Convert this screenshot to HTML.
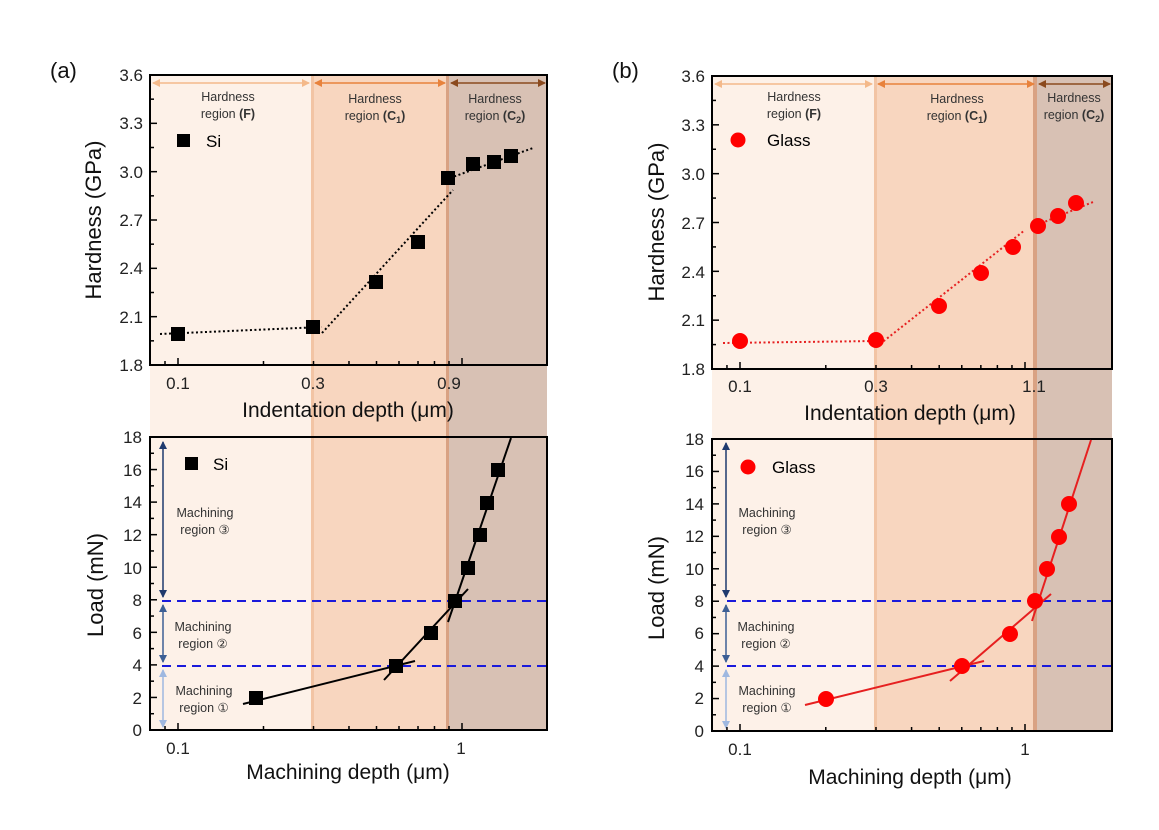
<!DOCTYPE html>
<html><head><meta charset="utf-8"><style>
body{margin:0;background:#fff;}
svg{display:block;font-family:"Liberation Sans",sans-serif;}
</style></head><body>
<svg id="s" width="1159" height="830" viewBox="0 0 1159 830">
<defs>
<marker id="aF" markerWidth="8" markerHeight="8" refX="7" refY="4" orient="auto-start-reverse" markerUnits="userSpaceOnUse"><path d="M0,0 L8,4 L0,8 Z" fill="#f4b98a"/></marker>
<marker id="aC1" markerWidth="8" markerHeight="8" refX="7" refY="4" orient="auto-start-reverse" markerUnits="userSpaceOnUse"><path d="M0,0 L8,4 L0,8 Z" fill="#e8823c"/></marker>
<marker id="aC2" markerWidth="8" markerHeight="8" refX="7" refY="4" orient="auto-start-reverse" markerUnits="userSpaceOnUse"><path d="M0,0 L8,4 L0,8 Z" fill="#8b4a1e"/></marker>
<marker id="m1" markerWidth="8" markerHeight="8" refX="7" refY="4" orient="auto-start-reverse" markerUnits="userSpaceOnUse"><path d="M0,0 L8,4 L0,8 Z" fill="#9fb8e0"/></marker>
<marker id="m2" markerWidth="8" markerHeight="8" refX="7" refY="4" orient="auto-start-reverse" markerUnits="userSpaceOnUse"><path d="M0,0 L8,4 L0,8 Z" fill="#3d5f95"/></marker>
<marker id="m3" markerWidth="8" markerHeight="8" refX="7" refY="4" orient="auto-start-reverse" markerUnits="userSpaceOnUse"><path d="M0,0 L8,4 L0,8 Z" fill="#1f3a6e"/></marker>
</defs>

<!-- ===== Panel A ===== -->
<rect x="150" y="75" width="162" height="655" fill="#fdf1e8"/>
<rect x="312" y="75" width="136" height="655" fill="#f8d6bf"/>
<rect x="448" y="75" width="99" height="655" fill="#d8c1b4"/>
<rect x="311" y="75" width="3" height="655" fill="#f2c4a4"/>
<rect x="446" y="75" width="3" height="655" fill="#d9a283"/>
<rect x="150" y="75" width="397" height="290" fill="none" stroke="#000" stroke-width="2"/>
<rect x="150" y="437" width="397" height="293" fill="none" stroke="#000" stroke-width="2"/>

<line x1="153" y1="83" x2="309" y2="83" stroke="#f4b98a" stroke-width="1.5" marker-start="url(#aF)" marker-end="url(#aF)"/>
<line x1="315" y1="83" x2="445" y2="83" stroke="#e8823c" stroke-width="1.5" marker-start="url(#aC1)" marker-end="url(#aC1)"/>
<line x1="451" y1="83" x2="545" y2="83" stroke="#8b4a1e" stroke-width="1.5" marker-start="url(#aC2)" marker-end="url(#aC2)"/>
<g font-size="12.5" fill="#333" text-anchor="middle">
<text x="228" y="101">Hardness</text><text x="228" y="118">region <tspan font-weight="bold">(F)</tspan></text>
<text x="375" y="103">Hardness</text><text x="375" y="120">region <tspan font-weight="bold">(C<tspan font-size="9" dy="3">1</tspan><tspan dy="-3">)</tspan></tspan></text>
<text x="495" y="103">Hardness</text><text x="495" y="120">region <tspan font-weight="bold">(C<tspan font-size="9" dy="3">2</tspan><tspan dy="-3">)</tspan></tspan></text>
</g>
<rect x="177" y="134" width="13" height="13" fill="#000"/>
<text x="206" y="147" font-size="17">Si</text>

<polyline points="160,334 322,327" fill="none" stroke="#000" stroke-width="2" stroke-dasharray="2,2.5"/>
<polyline points="322,333 453,190" fill="none" stroke="#000" stroke-width="2" stroke-dasharray="2,2.5"/>
<polyline points="450,178 533,148" fill="none" stroke="#000" stroke-width="2" stroke-dasharray="2,2.5"/>
<g fill="#000">
<rect x="171" y="327" width="14" height="14"/><rect x="306" y="320" width="14" height="14"/>
<rect x="369" y="275" width="14" height="14"/><rect x="411" y="235" width="14" height="14"/>
<rect x="441" y="171" width="14" height="14"/><rect x="466" y="157" width="14" height="14"/>
<rect x="487" y="155" width="14" height="14"/><rect x="504" y="149" width="14" height="14"/>
</g>
<g font-size="17" text-anchor="end" fill="#222">
<text x="143" y="81">3.6</text><text x="143" y="129">3.3</text><text x="143" y="178">3.0</text><text x="143" y="226">2.7</text><text x="143" y="274">2.4</text><text x="143" y="323">2.1</text><text x="143" y="371">1.8</text>
</g>
<g font-size="17" text-anchor="middle" fill="#222">
<text x="178" y="389">0.1</text><text x="313" y="389">0.3</text><text x="449" y="389">0.9</text>
</g>
<text x="348" y="417" font-size="21" text-anchor="middle" fill="#111">Indentation depth (μm)</text>
<text transform="translate(101,220) rotate(-90)" font-size="22" text-anchor="middle" fill="#111">Hardness (GPa)</text>
<text x="50" y="78" font-size="22" fill="#111">(a)</text>

<line x1="162" y1="601" x2="547" y2="601" stroke="#1a1adb" stroke-width="2" stroke-dasharray="9,6"/>
<line x1="162" y1="666" x2="547" y2="666" stroke="#1a1adb" stroke-width="2" stroke-dasharray="9,6"/>
<line x1="163" y1="442" x2="163" y2="597" stroke="#1f3a6e" stroke-width="1.5" marker-start="url(#m3)" marker-end="url(#m3)"/>
<line x1="163" y1="605" x2="163" y2="662" stroke="#3d5f95" stroke-width="1.5" marker-start="url(#m2)" marker-end="url(#m2)"/>
<line x1="163" y1="670" x2="163" y2="727" stroke="#9fb8e0" stroke-width="1.5" marker-start="url(#m1)" marker-end="url(#m1)"/>
<g font-size="12.5" fill="#333" text-anchor="middle">
<text x="205" y="517">Machining</text><text x="205" y="534">region ③</text>
<text x="203" y="631">Machining</text><text x="203" y="648">region ②</text>
<text x="204" y="695">Machining</text><text x="204" y="712">region ①</text>
</g>
<rect x="185" y="457" width="13" height="13" fill="#000"/>
<text x="213" y="470" font-size="17">Si</text>
<g stroke="#000" stroke-width="2" fill="none">
<line x1="243" y1="704" x2="415" y2="661"/>
<line x1="384" y1="680" x2="468" y2="589"/>
<line x1="448" y1="622" x2="511" y2="438"/>
</g>
<g fill="#000">
<rect x="249" y="691" width="14" height="14"/><rect x="389" y="659" width="14" height="14"/>
<rect x="424" y="626" width="14" height="14"/><rect x="448" y="594" width="14" height="14"/>
<rect x="461" y="561" width="14" height="14"/><rect x="473" y="528" width="14" height="14"/>
<rect x="480" y="496" width="14" height="14"/><rect x="491" y="463" width="14" height="14"/>
</g>
<g font-size="17" text-anchor="end" fill="#222">
<text x="142" y="443">18</text><text x="142" y="476">16</text><text x="142" y="508">14</text><text x="142" y="541">12</text><text x="142" y="574">10</text><text x="142" y="606">8</text><text x="142" y="639">6</text><text x="142" y="671">4</text><text x="142" y="704">2</text><text x="142" y="736">0</text>
</g>
<g font-size="17" text-anchor="middle" fill="#222"><text x="178" y="754">0.1</text><text x="461" y="754">1</text></g>
<text x="348" y="779" font-size="21" text-anchor="middle" fill="#111">Machining depth (μm)</text>
<text transform="translate(103,585) rotate(-90)" font-size="22" text-anchor="middle" fill="#111">Load (mN)</text>

<!-- ===== Panel B ===== -->
<rect x="712" y="76" width="163" height="655" fill="#fdf1e8"/>
<rect x="875" y="76" width="161" height="655" fill="#f8d6bf"/>
<rect x="1036" y="76" width="76" height="655" fill="#d8c1b4"/>
<rect x="874" y="76" width="3" height="655" fill="#f2c4a4"/>
<rect x="1033" y="76" width="4" height="655" fill="#d9a283"/>
<rect x="712" y="76" width="400" height="293" fill="none" stroke="#000" stroke-width="2"/>
<rect x="712" y="439" width="400" height="292" fill="none" stroke="#000" stroke-width="2"/>

<line x1="715" y1="84" x2="872" y2="84" stroke="#f4b98a" stroke-width="1.5" marker-start="url(#aF)" marker-end="url(#aF)"/>
<line x1="878" y1="84" x2="1034" y2="84" stroke="#e8823c" stroke-width="1.5" marker-start="url(#aC1)" marker-end="url(#aC1)"/>
<line x1="1039" y1="84" x2="1110" y2="84" stroke="#8b4a1e" stroke-width="1.5" marker-start="url(#aC2)" marker-end="url(#aC2)"/>
<g font-size="12.5" fill="#333" text-anchor="middle">
<text x="794" y="101">Hardness</text><text x="794" y="118">region <tspan font-weight="bold">(F)</tspan></text>
<text x="957" y="103">Hardness</text><text x="957" y="120">region <tspan font-weight="bold">(C<tspan font-size="9" dy="3">1</tspan><tspan dy="-3">)</tspan></tspan></text>
<text x="1074" y="102">Hardness</text><text x="1074" y="119">region <tspan font-weight="bold">(C<tspan font-size="9" dy="3">2</tspan><tspan dy="-3">)</tspan></tspan></text>
</g>
<circle cx="738" cy="140" r="7.5" fill="#f00"/>
<text x="767" y="146" font-size="17">Glass</text>
<g fill="none" stroke="#e62020" stroke-width="2" stroke-dasharray="2,2.5">
<line x1="723" y1="343" x2="876" y2="341"/>
<line x1="880" y1="344" x2="1025" y2="230"/>
<line x1="1037" y1="225" x2="1093" y2="202"/>
</g>
<g fill="#f00">
<circle cx="740" cy="341" r="8"/><circle cx="876" cy="340" r="8"/><circle cx="939" cy="306" r="8"/><circle cx="981" cy="273" r="8"/><circle cx="1013" cy="247" r="8"/><circle cx="1038" cy="226" r="8"/><circle cx="1058" cy="216" r="8"/><circle cx="1076" cy="203" r="8"/>
</g>
<g font-size="17" text-anchor="end" fill="#222">
<text x="705" y="82">3.6</text><text x="705" y="131">3.3</text><text x="705" y="180">3.0</text><text x="705" y="229">2.7</text><text x="705" y="278">2.4</text><text x="705" y="326">2.1</text><text x="705" y="375">1.8</text>
</g>
<g font-size="17" text-anchor="middle" fill="#222">
<text x="740" y="392">0.1</text><text x="876" y="392">0.3</text><text x="1034" y="392">1.1</text>
</g>
<text x="910" y="420" font-size="21" text-anchor="middle" fill="#111">Indentation depth (μm)</text>
<text transform="translate(664,222) rotate(-90)" font-size="22" text-anchor="middle" fill="#111">Hardness (GPa)</text>
<text x="612" y="78" font-size="22" fill="#111">(b)</text>

<line x1="727" y1="601" x2="1112" y2="601" stroke="#1a1adb" stroke-width="2" stroke-dasharray="9,6"/>
<line x1="727" y1="666" x2="1112" y2="666" stroke="#1a1adb" stroke-width="2" stroke-dasharray="9,6"/>
<line x1="726" y1="443" x2="726" y2="597" stroke="#1f3a6e" stroke-width="1.5" marker-start="url(#m3)" marker-end="url(#m3)"/>
<line x1="726" y1="605" x2="726" y2="662" stroke="#3d5f95" stroke-width="1.5" marker-start="url(#m2)" marker-end="url(#m2)"/>
<line x1="726" y1="670" x2="726" y2="728" stroke="#9fb8e0" stroke-width="1.5" marker-start="url(#m1)" marker-end="url(#m1)"/>
<g font-size="12.5" fill="#333" text-anchor="middle">
<text x="767" y="517">Machining</text><text x="767" y="534">region ③</text>
<text x="766" y="631">Machining</text><text x="766" y="648">region ②</text>
<text x="767" y="695">Machining</text><text x="767" y="712">region ①</text>
</g>
<circle cx="748" cy="467" r="7.5" fill="#f00"/>
<text x="772" y="473" font-size="17">Glass</text>
<g stroke="#e62020" stroke-width="2" fill="none">
<line x1="805" y1="705" x2="984" y2="661"/>
<line x1="950" y1="681" x2="1051" y2="594"/>
<line x1="1032" y1="621" x2="1091" y2="440"/>
</g>
<g fill="#f00">
<circle cx="826" cy="699" r="8"/><circle cx="962" cy="666" r="8"/><circle cx="1010" cy="634" r="8"/><circle cx="1035" cy="601" r="8"/><circle cx="1047" cy="569" r="8"/><circle cx="1059" cy="537" r="8"/><circle cx="1069" cy="504" r="8"/>
</g>
<g font-size="17" text-anchor="end" fill="#222">
<text x="704" y="445">18</text><text x="704" y="477">16</text><text x="704" y="510">14</text><text x="704" y="542">12</text><text x="704" y="575">10</text><text x="704" y="607">8</text><text x="704" y="639">6</text><text x="704" y="672">4</text><text x="704" y="704">2</text><text x="704" y="737">0</text>
</g>
<g font-size="17" text-anchor="middle" fill="#222"><text x="740" y="755">0.1</text><text x="1025" y="755">1</text></g>
<text x="910" y="784" font-size="21" text-anchor="middle" fill="#111">Machining depth (μm)</text>
<text transform="translate(664,588) rotate(-90)" font-size="22" text-anchor="middle" fill="#111">Load (mN)</text>

<g id="ticks" stroke="#000" stroke-width="1.5"></g>
</svg>
<script>
(function(){
var g=document.getElementById('ticks'),h='';
function L(a,b,c,d){h+='<line x1="'+a+'" y1="'+b+'" x2="'+c+'" y2="'+d+'"/>';}
function yt(x,top,bot,nMaj,sub){var n=nMaj*sub;for(var i=0;i<=n;i++){var y=top+(bot-top)*i/n;L(x,y,x+(i%sub?4:7),y);}}
yt(150,75,365,6,2);yt(150,437,730,9,2);yt(712,76,369,6,2);yt(712,439,731,9,2);
var vals=[0.09,0.1,0.2,0.3,0.4,0.5,0.6,0.7,0.8,0.9,1];
function xt(x0,sc,by,xmax){vals.forEach(function(v){var x=x0+sc*Math.log10(v/0.1);if(x<=xmax){var maj=(v==0.1||v==1);L(x,by,x,by-(maj?7:4));}});}
xt(178,284,365,547);xt(178,284,730,547);xt(740,285,369,1112);xt(740,285,731,1112);
g.innerHTML=h;
})();
</script>
</body></html>
